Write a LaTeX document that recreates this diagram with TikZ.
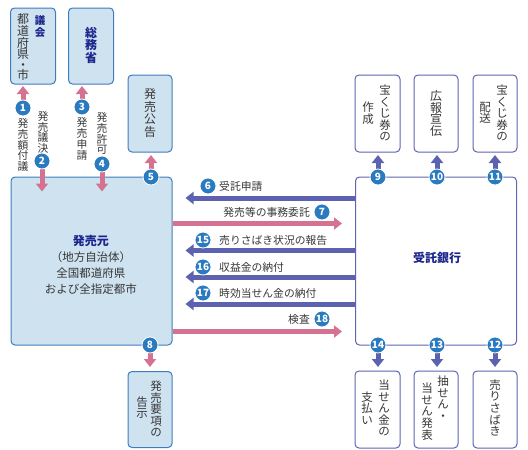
\documentclass[tikz,border=0pt]{standalone}
\usepackage{fontspec}
\setmainfont{Noto Sans CJK JP}
\usepackage{tikz}
\usepackage{xcolor}
\definecolor{takaraFill}{RGB}{206,226,240}
\definecolor{takaraLine}{RGB}{62,124,190}
\definecolor{takaraBank}{RGB}{96,100,178}
\definecolor{takaraPink}{RGB}{213,114,146}
\definecolor{takaraViolet}{RGB}{92,98,176}
\definecolor{takaraNum}{RGB}{42,122,192}
\definecolor{takaraNavy}{RGB}{28,38,140}
\definecolor{takaraText}{RGB}{55,55,55}
\usetikzlibrary{arrows.meta,positioning}
\pgfdeclarelayer{front}
\pgfsetlayers{main,front}

\begin{document}
\begin{tikzpicture}[x=1pt, y=-1pt,
    lbox/.style={rectangle, rounded corners=4pt, draw=takaraLine, fill=takaraFill,
                 line width=1pt, minimum width=44pt, minimum height=76pt, inner sep=0pt},
    rbox/.style={rectangle, rounded corners=4pt, draw=takaraBank, fill=white,
                 line width=1pt, minimum width=44pt, minimum height=77pt, inner sep=0pt},
    tate/.style={align=center, inner sep=0pt, text=takaraText,
                 font=\fontsize{11.5}{11.6}\selectfont},
    tatebold/.style={tate, text=takaraNavy, font=\bfseries\fontsize{11.5}{12}\selectfont},
    lbl/.style={inner sep=0pt, text=takaraText, font=\fontsize{10.8}{12}\selectfont},
    num/.style={circle, fill=takaraNum, draw=white, line width=0.8pt, minimum size=16pt,
                inner sep=0pt, text=white, font=\bfseries\fontsize{10}{10}\selectfont},
    parr/.style={draw=takaraPink, line width=5pt, -{Triangle[width=12pt,length=8pt]}},
    barr/.style={draw=takaraViolet, line width=5pt, -{Triangle[width=12pt,length=8pt]}}
  ]
  \useasboundingbox (0,0) rectangle (528,450);

  % left side
  \node[lbox, minimum width=45pt] (gk) at (33,46) {};
  \node[tate, font=\fontsize{12}{10.6}\selectfont] (gkA) at (23,47) {都\\道\\府\\県\\・\\市};
  \node[tatebold, font=\bfseries\fontsize{10.5}{12}\selectfont] (gkB) at (40,27) {議\\会};
  \node[lbox, minimum width=45pt] (sm) at (91,46) {};
  \node[tatebold, font=\bfseries\fontsize{12}{12.5}\selectfont] (smA) at (91,45) {総\\務\\省};
  \node[lbox, minimum height=77pt] (kk) at (150,113.5) {};
  \node[tate, font=\fontsize{12}{12.5}\selectfont] (kkA) at (150,113) {発\\売\\公\\告};

  \node[lbox, minimum width=161pt, minimum height=168pt] (ht) at (91.5,261) {};
  \node[align=center, inner sep=0pt, text=takaraText, font=\fontsize{11.5}{16}\selectfont]
       (htA) at (91,264.5)
       {{\color{takaraNavy}\bfseries\fontsize{12}{16}\selectfont 発売元}\\（地方自治体）\\全国都道府県\\および全指定都市};

  \node[lbox] (kj) at (150,409.5) {};
  \node[tate] (kjA) at (156,409) {発\\売\\要\\項\\の};
  \node[tate] (kjB) at (142,407.5) {告\\示};

  % right side
  \node[rbox, minimum width=45pt] (sk) at (377.5,113.5) {};
  \node[tate] (skA) at (385,113) {宝\\く\\じ\\券\\の};
  \node[tate] (skB) at (368,113) {作\\成};
  \node[rbox] (kh) at (436,113.5) {};
  \node[tate, font=\fontsize{12}{11.8}\selectfont] (khA) at (436,113.5) {広\\報\\宣\\伝};
  \node[rbox] (hs) at (495,113.5) {};
  \node[tate] (hsA) at (502,113) {宝\\く\\じ\\券\\の};
  \node[tate] (hsB) at (485,113) {配\\送};

  \node[rbox, minimum width=161pt, minimum height=168pt] (gin) at (436,261) {};
  \node[inner sep=0pt, text=takaraNavy, font=\bfseries\fontsize{12}{14}\selectfont]
       (ginA) at (437,258) {受託銀行};

  \node[rbox, minimum width=45pt] (sh) at (377.5,409.5) {};
  \node[tate] (shA) at (384,408) {当\\せ\\ん\\金\\の};
  \node[tate] (shB) at (367,408) {支\\払\\い};
  \node[rbox] (cs) at (436,409.5) {};
  \node[tate] (csA) at (443,398) {抽\\せ\\ん\\・};
  \node[tate] (csB) at (427,411.5) {当\\せ\\ん\\発\\表};
  \node[rbox] (us) at (495,409.5) {};
  \node[tate] (usA) at (495,408) {売\\り\\さ\\ば\\き};

  % numbers (front layer, over the arrows)
  \begin{pgfonlayer}{front}
  \node[num] (n1)  at (23,108)  {1};
  \node[num] (n2)  at (42,161)  {2};
  \node[num] (n3)  at (82,107)  {3};
  \node[num] (n4)  at (102,164) {4};
  \node[num] (n5)  at (151,177) {5};
  \node[num] (n8)  at (150,345) {8};
  \node[num] (n6)  at (208,186) {6};
  \node[num] (n7)  at (322,212) {7};
  \node[num] (n15) at (203,240) {15};
  \node[num] (n16) at (203,267) {16};
  \node[num] (n17) at (203,293) {17};
  \node[num] (n18) at (322,319) {18};
  \node[num] (n9)  at (378,177) {9};
  \node[num] (n10) at (437,177) {10};
  \node[num] (n11) at (495,177) {11};
  \node[num] (n14) at (378,345) {14};
  \node[num] (n13) at (437,345) {13};
  \node[num] (n12) at (495,345) {12};
  \end{pgfonlayer}

  % labels beside the arrows
  \node[tate, font=\fontsize{10.8}{10.8}\selectfont] (l1) at (23,145)  {発\\売\\額\\付\\議};
  \node[tate, font=\fontsize{10.8}{10.8}\selectfont] (l2) at (43,132.5) {発\\売\\議\\決};
  \node[tate, font=\fontsize{10.8}{10.8}\selectfont] (l3) at (82,139)  {発\\売\\申\\請};
  \node[tate, font=\fontsize{10.8}{10.8}\selectfont] (l4) at (102,133.5) {発\\売\\許\\可};
  \node[lbl, anchor=west] (l6)  at (219,186) {受託申請};
  \node[lbl, anchor=east] (l7)  at (310,212) {発売等の事務委託};
  \node[lbl, anchor=west] (l15) at (219,240) {売りさばき状況の報告};
  \node[lbl, anchor=west] (l16) at (219,267) {収益金の納付};
  \node[lbl, anchor=west] (l17) at (219,293) {時効当せん金の納付};
  \node[lbl, anchor=east] (l18) at (310,319) {検査};

  % rows of the horizontal arrows
  \coordinate (r6)  at (0,198);
  \coordinate (r7)  at (0,223.5);
  \coordinate (r15) at (0,250.5);
  \coordinate (r16) at (0,277);
  \coordinate (r17) at (0,304);
  \coordinate (r18) at (0,331.5);

  % vertical arrows
  \draw[parr, shorten >=1.5pt] (n1) -- (gk.south -| n1);
  \draw[parr, shorten >=-15pt] (n2) -- (ht.north -| n2);
  \draw[parr, shorten >=1.5pt] (n3) -- (sm.south -| n3);
  \draw[parr, shorten >=-15pt] (n4) -- (ht.north -| n4);
  \draw[parr, shorten >=2.5pt] (n5) -- (kk.south -| n5);
  \draw[parr, shorten >=4pt]   (n8) -- (kj.north -| n8);
  \draw[barr, shorten >=2.5pt] (n9)  -- (sk.south -| n9);
  \draw[barr, shorten >=2.5pt] (n10) -- (kh.south -| n10);
  \draw[barr, shorten >=2.5pt] (n11) -- (hs.south -| n11);
  \draw[barr, shorten >=3.5pt] (n14) -- (sh.north -| n14);
  \draw[barr, shorten >=3.5pt] (n13) -- (cs.north -| n13);
  \draw[barr, shorten >=3.5pt] (n12) -- (us.north -| n12);

  % horizontal arrows
  \draw[barr, shorten >=13pt] (gin.west |- r6)  -- (ht.east |- r6);
  \draw[parr, shorten >=13pt] (ht.east |- r7)   -- (gin.west |- r7);
  \draw[barr, shorten >=13pt] (gin.west |- r15) -- (ht.east |- r15);
  \draw[barr, shorten >=13pt] (gin.west |- r16) -- (ht.east |- r16);
  \draw[barr, shorten >=13pt] (gin.west |- r17) -- (ht.east |- r17);
  \draw[parr, shorten >=13pt] (ht.east |- r18)  -- (gin.west |- r18);
\end{tikzpicture}
\end{document}
